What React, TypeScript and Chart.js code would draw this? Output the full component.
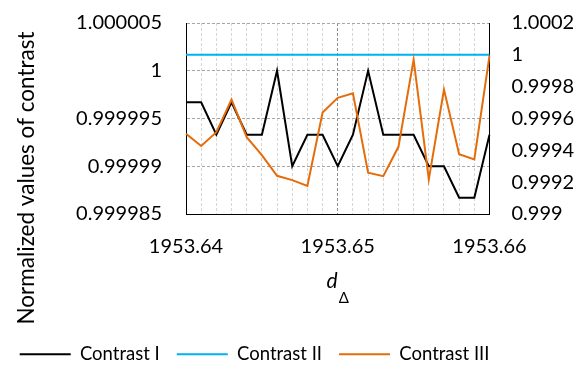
import { useEffect, useRef } from "react";
import { Chart, registerables } from "chart.js";

Chart.register(...registerables);

const xLabels = [
  "1953.640", "1953.641", "1953.642", "1953.643", "1953.644", "1953.645", "1953.646",
  "1953.647", "1953.648", "1953.649", "1953.650", "1953.651", "1953.652", "1953.653",
  "1953.654", "1953.655", "1953.656", "1953.657", "1953.658", "1953.659", "1953.660",
];
const majorTickLabels = ["1953.64", "1953.65", "1953.66"];

const contrastI = [
  0.9999967, 0.9999967, 0.9999933, 0.9999967, 0.9999933, 0.9999933, 1.0,
  0.99999, 0.9999933, 0.9999933, 0.99999, 0.9999933, 1.0, 0.9999933,
  0.9999933, 0.9999933, 0.99999, 0.99999, 0.9999867, 0.9999867, 0.9999933,
];
const contrastII = [
  1, 1, 1, 1, 1, 1, 1, 1, 1, 1, 1, 1, 1, 1, 1, 1, 1, 1, 1, 1, 1,
];
const contrastIII = [
  0.999504, 0.999427, 0.999514, 0.999719, 0.999483, 0.99937, 0.99924,
  0.999213, 0.999176, 0.999638, 0.99973, 0.999759, 0.999259, 0.999238,
  0.999422, 0.99997, 0.999218, 0.999782, 0.999376, 0.999343, 0.999995,
];

const leftTicks = [0.999985, 0.99999, 0.999995, 1, 1.000005];
const rightTicks = [0.999, 0.9992, 0.9994, 0.9996, 0.9998, 1, 1.0002];

const seriesNames = ["Contrast I", "Contrast II", "Contrast III"];
const seriesColors = ["#000000", "#00B0F0", "#E46C0A"];

const yTitle = "Normalized values of contrast";
const xTitleMain = "d";
const xTitleSub = "Δ";

const FONT = "Lato";
const W = 586;
const H = 367;
const PAD_LEFT = 2.7;
const PLOT_LEFT = 186;
const PLOT_RIGHT = 489.5;
const PLOT_BOTTOM = 214;
const LEGEND_TOP = 328;
const LEGEND_FONT = 18.5;
const LEGEND_PAD = 17;

const isMajor = (i: number) =>
  majorTickLabels.some((m) => parseFloat(m) === parseFloat(xLabels[i]));
const majorLabel = (i: number) =>
  majorTickLabels.find((m) => parseFloat(m) === parseFloat(xLabels[i])) || "";

const titlesPlugin = {
  id: "axisTitles",
  afterLayout(chart: any) {
    const lg = chart.legend;
    if (lg) {
      const h = lg.bottom - lg.top;
      lg.top = LEGEND_TOP;
      lg.bottom = LEGEND_TOP + h;
    }
  },
  afterDraw(chart: any) {
    const ctx = chart.ctx as CanvasRenderingContext2D;
    const area = chart.chartArea;
    ctx.save();
    ctx.fillStyle = "#000";
    ctx.translate(26.5, 178);
    ctx.rotate(-Math.PI / 2);
    ctx.font = `22.5px ${FONT}`;
    ctx.textAlign = "center";
    ctx.textBaseline = "middle";
    ctx.fillText(yTitle, 0, 0);
    ctx.restore();

    ctx.save();
    ctx.fillStyle = "#000";
    ctx.textBaseline = "alphabetic";
    ctx.textAlign = "left";
    ctx.font = `italic 21px ${FONT}`;
    const wd = ctx.measureText(xTitleMain).width;
    ctx.font = `15px ${FONT}`;
    const ws = ctx.measureText(xTitleSub).width;
    const cx = (area.left + area.right) / 2;
    const start = cx - (wd + ws + 1) / 2;
    ctx.font = `italic 21px ${FONT}`;
    ctx.fillText(xTitleMain, start, 288);
    ctx.font = `15px ${FONT}`;
    ctx.fillText(xTitleSub, start + wd + 1, 303);
    ctx.restore();
  },
};

const noScalePadding = (s: any) => {
  s.paddingTop = 0;
  s.paddingBottom = 0;
};

export default function App() {
  const ref = useRef<HTMLCanvasElement | null>(null);

  useEffect(() => {
    if (!ref.current) return;
    const datasets = [contrastI, contrastII, contrastIII].map((d, i) => ({
      label: seriesNames[i],
      data: d,
      borderColor: seriesColors[i],
      backgroundColor: seriesColors[i],
      borderWidth: 2,
      pointRadius: 0,
      tension: 0,
      fill: false,
      yAxisID: i === 0 ? "y" : "y1",
      order: 3 - i,
    }));

    const chart = new Chart(ref.current, {
      type: "line",
      data: { labels: xLabels, datasets },
      plugins: [titlesPlugin],
      options: {
        responsive: false,
        animation: false,
        layout: { padding: { top: 23, right: 0, bottom: 0, left: PAD_LEFT } },
        plugins: {
          tooltip: { enabled: false },
          title: { display: false },
          legend: {
            position: "bottom",
            align: "start",
            labels: {
              usePointStyle: true,
              pointStyle: "line",
              pointStyleWidth: 51,
              color: "#000",
              padding: LEGEND_PAD,
              font: { family: FONT, size: LEGEND_FONT },
              sort: (a: any, b: any) => a.datasetIndex - b.datasetIndex,
            },
          },
        },
        scales: {
          x: {
            type: "category",
            offset: false,
            afterFit: (s: any) => {
              const lh = s.chart.legend && s.chart.legend.height ? s.chart.legend.height : 0;
              s.height = H - lh - PLOT_BOTTOM;
              s.paddingLeft = 0;
              s.paddingRight = 0;
            },
            grid: {
              drawTicks: false,
              lineWidth: 1,
              color: (c: any) =>
                c.index === 0 || c.index === xLabels.length - 1
                  ? "rgba(0,0,0,0)"
                  : isMajor(c.index)
                  ? "#8c8c8c"
                  : "#d6d6d6",
            },
            border: { display: true, color: "#000", width: 1, dash: [3, 2] },
            ticks: {
              autoSkip: false,
              maxRotation: 0,
              minRotation: 0,
              padding: 21,
              color: "#000",
              font: { family: FONT, size: 20 },
              callback: (_v: any, i: number) => (isMajor(i) ? majorLabel(i) : ""),
            },
          },
          y: {
            type: "linear",
            position: "left",
            min: leftTicks[0],
            max: leftTicks[leftTicks.length - 1],
            afterFit: (s: any) => {
              s.width = PLOT_LEFT - PAD_LEFT;
              noScalePadding(s);
            },
            afterBuildTicks: (s: any) => {
              s.ticks = leftTicks.map((v) => ({ value: v }));
            },
            grid: {
              drawTicks: false,
              lineWidth: 1,
              color: (c: any) => (c.index === 0 ? "rgba(0,0,0,0)" : "#a6a6a6"),
            },
            border: { display: true, color: "#000", width: 1, dash: [3, 2] },
            ticks: {
              padding: 24,
              color: "#000",
              font: { family: FONT, size: 20 },
              callback: (v: any) => String(Math.round(Number(v) * 1e6) / 1e6),
            },
          },
          y1: {
            type: "linear",
            position: "right",
            min: rightTicks[0],
            max: rightTicks[rightTicks.length - 1],
            afterFit: (s: any) => {
              s.width = W - PLOT_RIGHT;
              noScalePadding(s);
            },
            afterBuildTicks: (s: any) => {
              s.ticks = rightTicks.map((v) => ({ value: v }));
            },
            grid: { display: false, drawTicks: false },
            border: { display: true, color: "#000", width: 1 },
            ticks: {
              padding: 22,
              color: "#000",
              font: { family: FONT, size: 20 },
              callback: (v: any) => String(Math.round(Number(v) * 1e4) / 1e4),
            },
          },
        },
      },
    } as any);
    return () => chart.destroy();
  }, []);

  return (
    <div style={{ position: "fixed", left: 0, top: 0, width: W, height: H, background: "#fff" }}>
      <canvas ref={ref} width={W} height={H} style={{ display: "block", width: W, height: H }} />
    </div>
  );
}
